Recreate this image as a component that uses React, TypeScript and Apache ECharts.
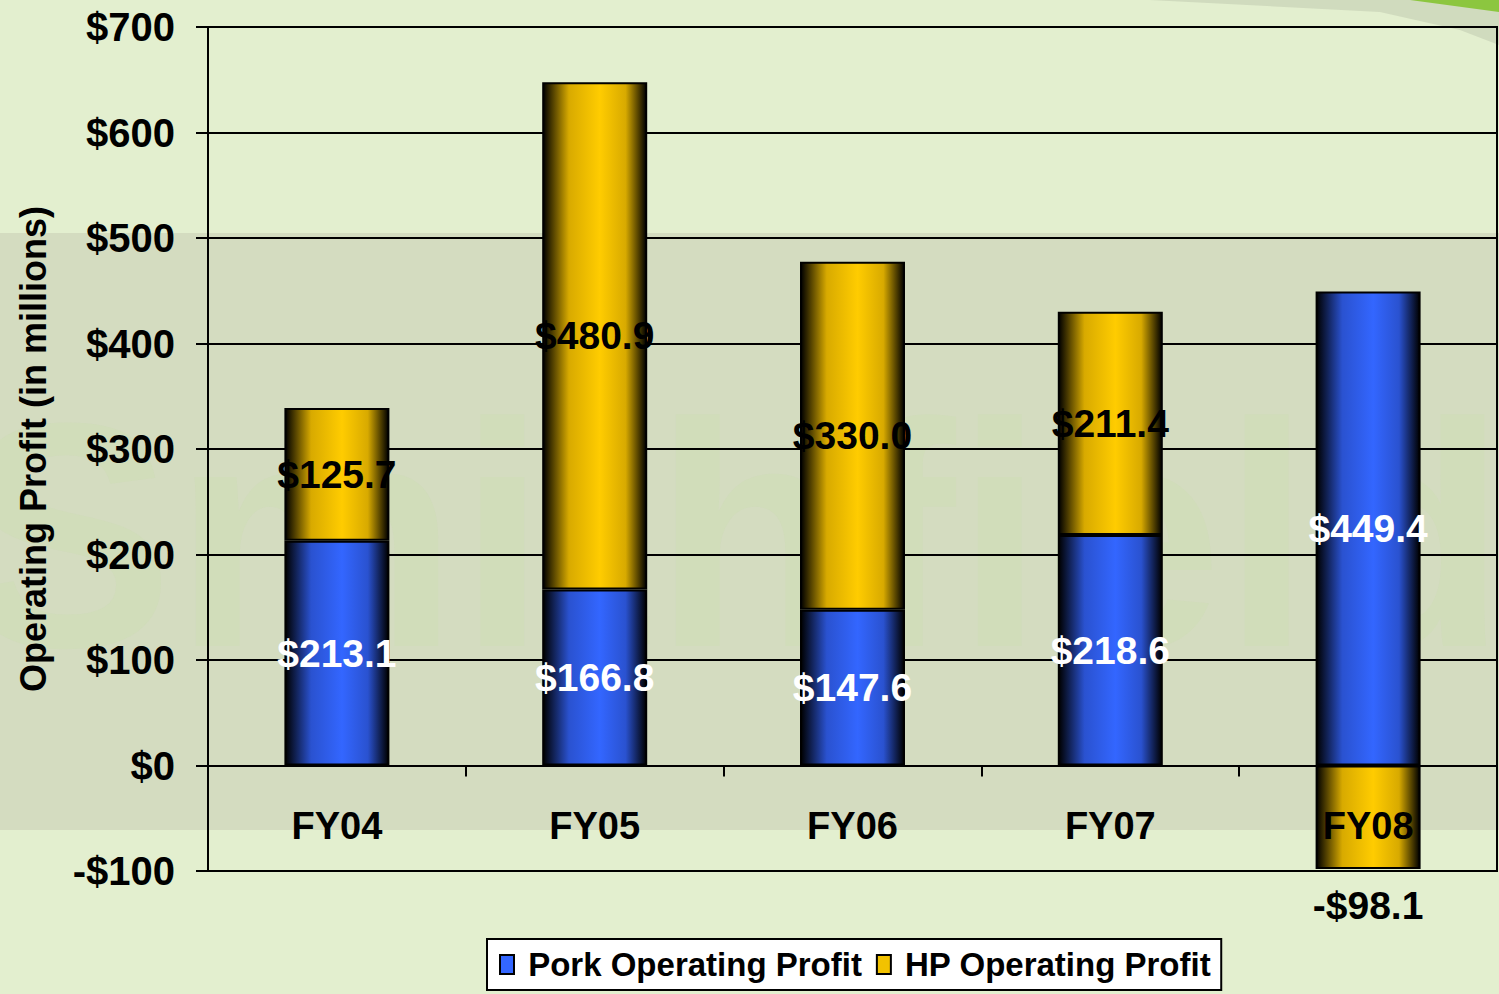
import React, { useEffect, useRef } from "react";
import * as echarts from "echarts";

const categories = ["FY04", "FY05", "FY06", "FY07", "FY08"];
const porkProfit = [213.1, 166.8, 147.6, 218.6, 449.4];
const hpProfit = [125.7, 480.9, 330.0, 211.4, -98.1];
const yMin = -100;
const yMax = 700;
const yStep = 100;

const FONT = "'Liberation Sans', Arial, sans-serif";

const money = (v: number, digits: number) =>
  (v < 0 ? "-$" : "$") + Math.abs(v).toFixed(digits);

function hGrad(mid: string, soft: string) {
  return new echarts.graphic.LinearGradient(0, 0, 1, 0, [
    { offset: 0, color: "#000000" },
    { offset: 0.25, color: soft },
    { offset: 0.55, color: mid },
    { offset: 0.8, color: soft },
    { offset: 1, color: "#000000" },
  ]);
}

export default function App() {
  const ref = useRef<HTMLDivElement>(null);
  useEffect(() => {
    document.body.style.margin = "0";
    const chart = echarts.init(ref.current!, null, { renderer: "svg" });
    const blue = hGrad("#3366ff", "#2a52d0");
    const gold = hGrad("#ffcc00", "#d8aa00");
    const labelBase = {
      show: true,
      fontFamily: FONT,
      fontWeight: "bold" as const,
      fontSize: 39,
    };
    chart.setOption({
      animation: false,
      backgroundColor: "#e3efcf",
      graphic: {
        elements: [
          {
            type: "rect",
            z: -10,
            shape: { x: 0, y: 233, width: 1499, height: 597 },
            style: { fill: "#d4dcc0" },
            silent: true,
          },
          {
            type: "text",
            z: -9,
            x: -40,
            y: 375,
            style: {
              text: "Smithfield",
              font: "bold 320px " + FONT,
              fill: "rgba(205,222,180,0.5)",
            },
            silent: true,
          },
          {
            type: "polygon",
            z: -8,
            shape: { points: [[1150, 0], [1499, 0], [1499, 45], [1460, 30], [1380, 12]] },
            style: { fill: "rgba(150,160,140,0.25)" },
            silent: true,
          },
          {
            type: "polygon",
            z: -7,
            shape: { points: [[1410, 0], [1499, 0], [1499, 12]] },
            style: { fill: "#8cc63f" },
            silent: true,
          },
        ],
      },
      grid: {
        left: 208,
        right: 2,
        top: 27,
        bottom: 123,
        show: true,
        borderColor: "#000",
        borderWidth: 2,
        backgroundColor: "transparent",
        containLabel: false,
        outerBoundsMode: "none",
      },
      legend: {
        left: 487,
        bottom: 4,
        backgroundColor: "#ffffff",
        borderColor: "#000",
        borderWidth: 2,
        borderRadius: 0,
        padding: [9, 10, 9, 12],
        itemGap: 14,
        itemWidth: 14,
        itemHeight: 19,
        formatter: (name: string) => " " + name,
        textStyle: {
          fontFamily: FONT,
          fontWeight: "bold",
          fontSize: 33,
          color: "#000",
        },
        data: [
          {
            name: "Pork Operating Profit",
            icon: "rect",
            itemStyle: { color: "#3366ff", borderColor: "#000", borderWidth: 2 },
          },
          {
            name: "HP Operating Profit",
            icon: "rect",
            itemStyle: { color: "#f2c200", borderColor: "#000", borderWidth: 2 },
          },
        ],
      },
      xAxis: {
        type: "category",
        data: categories,
        z: 5,
        axisLine: { onZero: true, lineStyle: { color: "#000", width: 2 } },
        axisTick: { show: true, length: 11, lineStyle: { color: "#000", width: 2 } },
        axisLabel: {
          margin: -64,
          fontFamily: FONT,
          fontWeight: "bold",
          fontSize: 38,
          color: "#000",
        },
        splitLine: { show: false },
      },
      yAxis: {
        type: "value",
        min: yMin,
        max: yMax,
        interval: yStep,
        name: "Operating Profit (in millions)",
        nameLocation: "middle",
        nameGap: 157,
        nameRotate: 90,
        nameTextStyle: {
          fontFamily: FONT,
          fontWeight: "bold",
          fontSize: 36,
          color: "#000",
        },
        axisLine: { show: true, lineStyle: { color: "#000", width: 2 } },
        axisTick: { show: true, length: 12, lineStyle: { color: "#000", width: 2 } },
        axisLabel: {
          margin: 33,
          fontFamily: FONT,
          fontWeight: "bold",
          fontSize: 40,
          color: "#000",
          formatter: (v: number) => money(v, 0),
        },
        splitLine: { show: true, lineStyle: { color: "#000", width: 2 } },
      },
      series: [
        {
          name: "Pork Operating Profit",
          type: "bar",
          stack: "total",
          barWidth: 105,
          itemStyle: { color: blue, borderColor: "#000", borderWidth: 2 },
          label: {
            ...labelBase,
            position: "inside",
            color: "#ffffff",
            formatter: (p: any) => money(p.value, 1),
          },
          data: porkProfit,
        },
        {
          name: "HP Operating Profit",
          type: "bar",
          stack: "total",
          barWidth: 105,
          itemStyle: { color: gold, borderColor: "#000", borderWidth: 2 },
          label: {
            ...labelBase,
            position: "inside",
            color: "#000000",
            formatter: (p: any) => money(p.value, 1),
          },
          data: hpProfit.map((v) =>
            v < 0
              ? { value: v, label: { position: "bottom", distance: 17 } }
              : v
          ),
        },
      ],
    });
    return () => chart.dispose();
  }, []);
  return <div ref={ref} style={{ width: 1499, height: 994 }} />;
}
